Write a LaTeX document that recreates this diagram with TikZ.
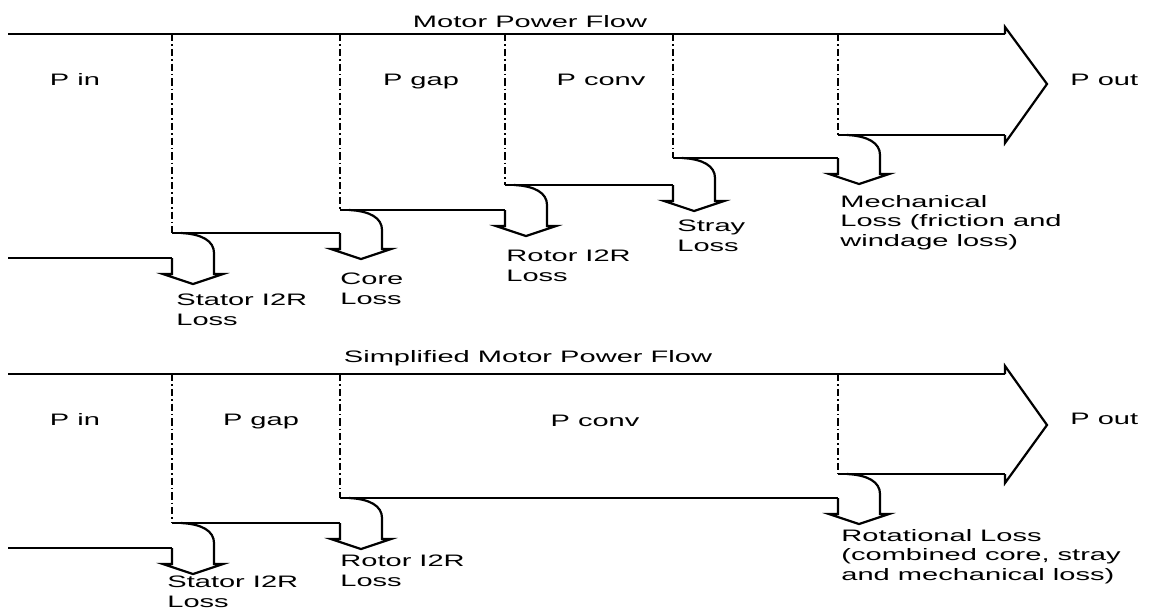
\documentclass[tikz,border=0pt]{standalone}
\usepackage{fontspec}
\usepackage{tikz}
\newfontfamily\pixfont[FakeStretch=1.75]{Liberation Sans}
\newcommand{\figtxt}{\pixfont\fontsize{8.3pt}{9.7pt}\selectfont}
\tikzset{
  flow/.style ={draw, line width=1.1pt, line join=miter},
  sep/.style  ={draw, line width=1.2pt,
                dash pattern=on 3.6pt off 1.5pt on 0.8pt off 1.5pt},
  lbl/.style  ={font=\figtxt, inner sep=0pt, align=left, anchor=base west},
  mid/.style  ={font=\figtxt, inner sep=0pt, anchor=base},
}
% loss branch: #1 = x of the step, #2 = old lower edge, #3 = new lower edge
\newcommand{\lossdrop}[3]{%
  \draw[flow] (#1,#2) -- (#1,#2+16) -- (#1-9,#2+16) -- (#1+21,#2+26)
    -- (#1+51,#2+16) -- (#1+42,#2+16) -- (#1+42,#3+20)
    .. controls (#1+42,#3+8) and (#1+30,#3+1) .. (#1+9,#3);}

\begin{document}
\begin{tikzpicture}[x=0.5pt, y=-0.5pt]
\useasboundingbox (0,0) rectangle (1149,612);

% ---- motor power flow (top) -----------------------------------------
\node[mid] (ttlA) at (530,27) {Motor Power Flow};
\draw[flow] (8,34) -- (1005,34);
\draw[flow] (8,258) -- (172,258);
\lossdrop{172}{258}{233}
\draw[flow] (172,233) -- (340,233);
\lossdrop{340}{233}{210}
\draw[flow] (340,210) -- (505,210);
\lossdrop{505}{210}{185}
\draw[flow] (505,185) -- (673,185);
\lossdrop{673}{185}{158}
\draw[flow] (673,158) -- (838,158);
\lossdrop{838}{158}{135}
\draw[flow] (838,135) -- (1005,135);
\draw[flow] (1005,34) -- (1005,27) -- (1047,84) -- (1005,143) -- (1005,135);
\foreach \x/\y in {172/233, 340/210, 505/185, 673/158, 838/135}
  \draw[sep] (\x,34) -- (\x,\y);

\node[mid] (pinA)   at (75,85)   {P in};
\node[mid] (pgapA)  at (421,85)  {P gap};
\node[mid] (pconvA) at (601,85)  {P conv};
\node[lbl] (poutA)  at (1070,85) {P out};
\node[lbl] (statA)  at (176,325) {Stator I2R\\Loss};
\node[lbl] (coreA)  at (340,304) {Core\\Loss};
\node[lbl] (rotA)   at (506,281) {Rotor I2R\\Loss};
\node[lbl] (strayA) at (677,251) {Stray\\Loss};
\node[lbl] (mechA)  at (840,246) {Mechanical\\Loss (friction and\\windage loss)};

% ---- simplified motor power flow (bottom) ---------------------------
\node[mid] (ttlB) at (528,362) {Simplified Motor Power Flow};
\draw[flow] (8,374) -- (1005,374);
\draw[flow] (8,548) -- (172,548);
\lossdrop{172}{548}{523}
\draw[flow] (172,523) -- (340,523);
\lossdrop{340}{523}{498}
\draw[flow] (340,498) -- (838,498);
\lossdrop{838}{498}{474}
\draw[flow] (838,474) -- (1005,474);
\draw[flow] (1005,374) -- (1005,366) -- (1047,425) -- (1005,483) -- (1005,474);
\foreach \x/\y in {172/523, 340/498, 838/474}
  \draw[sep] (\x,374) -- (\x,\y);

\node[mid] (pinB)   at (75,425)   {P in};
\node[mid] (pgapB)  at (261,425)  {P gap};
\node[mid] (pconvB) at (595,426)  {P conv};
\node[lbl] (poutB)  at (1070,424) {P out};
\node[lbl] (statB)  at (167,607)  {Stator I2R\\Loss};
\node[lbl] (rotB)   at (340,586)  {Rotor I2R\\Loss};
\node[lbl] (rotlB)  at (841,580)  {Rotational Loss\\(combined core, stray\\and mechanical loss)};
\end{tikzpicture}
\end{document}
